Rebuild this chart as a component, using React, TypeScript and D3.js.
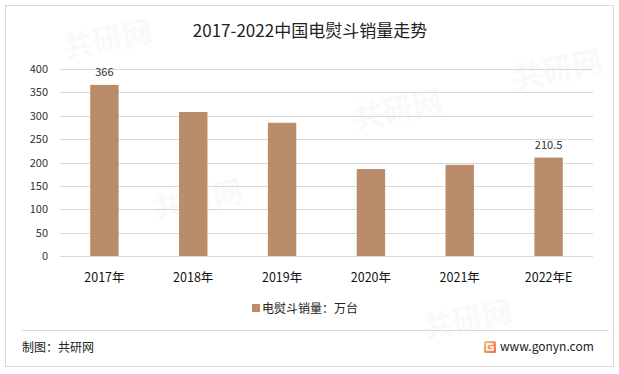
import React from "react";
import * as d3 from "d3";

const categories = ["2017年", "2018年", "2019年", "2020年", "2021年", "2022年E"];
const sales = [366, 308, 285, 186, 195, 210.5];
const labeled = [true, false, false, false, false, true];
const yTicks = [0, 50, 100, 150, 200, 250, 300, 350, 400];
const title = "2017-2022中国电熨斗销量走势";
const legendLabel = "电熨斗销量：万台";
const sourceLabel = "制图：共研网";
const siteLabel = "www.gonyn.com";

const W = 619;
const H = 374;
const plot = { left: 60, right: 593, top: 69, bottom: 256 };
const FONT = "'Noto Sans CJK SC', 'Microsoft YaHei', sans-serif";
const BAR = "#BA8C6A";

export default function App() {
  const x = d3
    .scaleBand<string>()
    .domain(categories)
    .range([plot.left, plot.right])
    .paddingInner(0.68)
    .paddingOuter(0.34);
  const y = d3.scaleLinear().domain([0, 400]).range([plot.bottom, plot.top]);

  return (
    <svg
      width={W}
      height={H}
      style={{ position: "absolute", left: 0, top: 0, background: "#fff" }}
      fontFamily={FONT}
    >
      <defs>
        <linearGradient id="logoGrad" x1="0" y1="0" x2="1" y2="1">
          <stop offset="0%" stopColor="#f9c27a" />
          <stop offset="100%" stopColor="#ef6a4c" />
        </linearGradient>
      </defs>
      <rect x={0} y={0} width={W} height={H} fill="#fff" />
      <rect x={5.5} y={5.5} width={608} height={361} fill="#fff" stroke="#d9d9d9" strokeWidth={1} />

      {/* faint watermarks */}
      {[
        [110, 50],
        [200, 210],
        [400, 120],
        [560, 80],
        [470, 330],
      ].map(([wx, wy], i) => (
        <text
          key={"wm" + i}
          x={wx}
          y={wy}
          fontSize={30}
          fontWeight="bold"
          fill="#000"
          opacity={0.018}
          transform={`rotate(-12 ${wx} ${wy})`}
          textAnchor="middle"
        >
          共研网
        </text>
      ))}

      <text x={310} y={37} fontSize={17} textAnchor="middle" fill="#222">
        {title}
      </text>

      {yTicks.map((t) => (
        <g key={t}>
          <line
            x1={plot.left}
            x2={plot.right}
            y1={Math.round(y(t)) + 0.5}
            y2={Math.round(y(t)) + 0.5}
            stroke="#d9d9d9"
            strokeWidth={1}
          />
          <text x={48} y={y(t) + 4} fontSize={11} textAnchor="end" fill="#333">
            {t}
          </text>
        </g>
      ))}

      {categories.map((c, i) => (
        <g key={c}>
          <rect
            x={x(c)!}
            y={y(sales[i])}
            width={x.bandwidth()}
            height={plot.bottom - y(sales[i])}
            fill={BAR}
          />
          {labeled[i] && (
            <text
              x={x(c)! + x.bandwidth() / 2}
              y={y(sales[i]) - 9}
              fontSize={11}
              textAnchor="middle"
              fill="#333"
            >
              {sales[i]}
            </text>
          )}
          <text
            x={x(c)! + x.bandwidth() / 2}
            y={282}
            fontSize={12.5}
            textAnchor="middle"
            fill="#111"
          >
            {c}
          </text>
        </g>
      ))}

      {/* legend */}
      <rect x={252} y={304} width={8} height={8} fill={BAR} />
      <text x={262} y={313} fontSize={12} fill="#222">
        {legendLabel}
      </text>

      <line x1={22} x2={609} y1={330.5} y2={330.5} stroke="#d9d9d9" strokeWidth={1} />

      <text x={22} y={352} fontSize={12} fill="#222">
        {sourceLabel}
      </text>

      {/* logo */}
      <rect x={484} y={341} width={12} height={12} rx={1.5} fill="url(#logoGrad)" />
      <path d="M493 344 H487 V350 H493 V347 H490" fill="none" stroke="#fff" strokeWidth={1.6} />
      <text x={500} y={351} fontSize={12} fill="#222">
        {siteLabel}
      </text>
    </svg>
  );
}
